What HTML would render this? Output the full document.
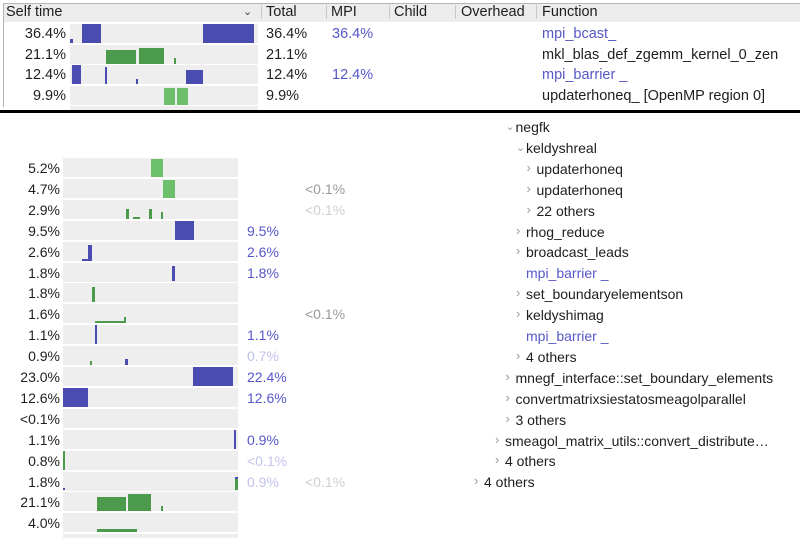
<!DOCTYPE html>
<html><head><meta charset="utf-8">
<style>
body{margin:0;width:800px;height:538px;overflow:hidden;background:#fff;font-family:"Liberation Sans",sans-serif;font-size:14px;color:#1e1e1e;position:relative}
.a{position:absolute;white-space:nowrap;line-height:16px}
.hdr{position:absolute;left:3px;top:3px;width:797px;height:18px;background:#ececec;border-top:1px solid #b5b5b5}
.sep{position:absolute;top:5px;width:1px;height:14px;background:#c8c8c8}
.band{position:absolute;background:#eeeeee;height:19px}
.mpi{color:#5657c8}.mpif{color:#c2c2ec}.gr{color:#9a9a9a}.grf{color:#cfcfcf}
.chev{position:absolute;color:#999;font-size:11px}
</style></head><body>
<div class="hdr"></div>
<div style="position:absolute;left:3px;top:3px;width:1px;height:104px;background:#b5b5b5"></div>
<div class="a" style="left:6px;top:4px;font-size:14.5px">Self time</div>
<div class="a" style="left:243px;top:4px;font-size:11px;color:#444">⌄</div>
<div class="sep" style="left:261px"></div><div class="sep" style="left:326px"></div><div class="sep" style="left:389px"></div><div class="sep" style="left:455px"></div><div class="sep" style="left:536px"></div>
<div class="a" style="left:266px;top:4px;font-size:14.5px">Total</div>
<div class="a" style="left:331px;top:4px;font-size:14.5px">MPI</div>
<div class="a" style="left:394px;top:4px;font-size:14.5px">Child</div>
<div class="a" style="left:461px;top:4px;font-size:14.5px">Overhead</div>
<div class="a" style="left:542px;top:4px;font-size:14.5px">Function</div>
<div style="position:absolute;left:0;top:110px;width:800px;height:3px;background:#000"></div>
<div id="root"></div>
<script>
// top table
const topSelf=["36.4%","21.1%","12.4%","9.9%"];
const topTotal=["36.4%","21.1%","12.4%","9.9%"];
const topMpi=["36.4%","","12.4%",""];
const topFunc=["mpi_bcast_","mkl_blas_def_zgemm_kernel_0_zen","mpi_barrier _","updaterhoneq_ [OpenMP region 0]"];
const topFuncMpi=[true,false,true,false];
// segments: [start, end, height] in fraction of band; color code b=blue g=green l=light green
const topSpark=[
 [[0,0.015,0.2,"b"],[0.065,0.165,1,"b"],[0.71,0.98,1,"b"]],
 [[0.19,0.35,0.7,"g"],[0.365,0.5,0.85,"g"],[0.555,0.565,0.3,"g"]],
 [[0.01,0.06,1,"b"],[0.185,0.195,0.9,"b"],[0.35,0.36,0.3,"b"],[0.615,0.71,0.75,"b"]],
 [[0.5,0.56,0.9,"l"],[0.57,0.63,0.9,"l"]]
];
// bottom table
const botSelf=["5.2%","4.7%","2.9%","9.5%","2.6%","1.8%","1.8%","1.6%","1.1%","0.9%","23.0%","12.6%","<0.1%","1.1%","0.8%","1.8%","21.1%","4.0%"];
const botMpi=["","","","9.5%","2.6%","1.8%","","","1.1%","0.7%","22.4%","12.6%","","0.9%","<0.1%","0.9%","",""];
const botMpiFaded=[0,0,0,0,0,0,0,0,0,1,0,0,0,0,1,1,0,0];
const botChild=["","<0.1%","<0.1%","","","","","<0.1%","","","","","","","","<0.1%","",""];
const botChildFaded=[0,0,1,0,0,0,0,0,0,0,0,0,0,0,0,1,0,0];
const botSpark=[
 [[0.5,0.57,0.95,"l"]],
 [[0.57,0.64,0.95,"l"]],
 [[0.36,0.375,0.5,"g"],[0.4,0.44,0.08,"g"],[0.49,0.51,0.5,"g"],[0.56,0.57,0.35,"g"]],
 [[0.64,0.75,1,"b"]],
 [[0.11,0.14,0.1,"b"],[0.14,0.165,0.8,"b"]],
 [[0.62,0.64,0.8,"b"]],
 [[0.165,0.18,0.8,"g"]],
 [[0.18,0.35,0.12,"g"],[0.35,0.36,0.35,"g"]],
 [[0.185,0.195,1,"b"]],
 [[0.155,0.165,0.2,"g"],[0.355,0.37,0.3,"b"]],
 [[0.74,0.97,1,"b"]],
 [[0,0.145,1,"b"]],
 [],
 [[0.975,0.99,1,"b"]],
 [[0,0.01,1,"g"]],
 [[0,0.01,0.15,"b"],[0.985,1,0.7,"b"],[0.985,1,0.6,"g"]],
 [[0.195,0.36,0.75,"g"],[0.37,0.5,0.9,"g"],[0.56,0.57,0.3,"g"]],
 [[0.195,0.42,0.2,"g"]]
];
const treeLabels=["negfk","keldyshreal","updaterhoneq","updaterhoneq","22 others","rhog_reduce","broadcast_leads","mpi_barrier _","set_boundaryelementson","keldyshimag","mpi_barrier _","4 others","mnegf_interface::set_boundary_elements","convertmatrixsiestatosmeagolparallel","3 others","smeagol_matrix_utils::convert_distribute…","4 others","4 others"];
const treeDepth=[3,4,5,5,5,4,4,4,4,4,4,4,3,3,3,2,2,0];
const treeChev=["v","v",">",">",">",">",">","",">",">","",">",">",">",">",">",">",">"];
const colors={b:"#4b4cb2",g:"#4c9a4c",l:"#6cc06c"};
const root=document.getElementById('root');
function div(cls,style,text){const d=document.createElement('div');d.className=cls;d.style.cssText=style;if(text!==undefined)d.textContent=text;root.appendChild(d);return d;}
function spark(segs,x0,w,y0,h,name){
 segs.forEach(s=>{const d=div('',`position:absolute;left:${x0+s[0]*w}px;width:${Math.max(1.5,(s[1]-s[0])*w)}px;top:${y0+h*(1-s[2])}px;height:${h*s[2]}px;background:${colors[s[3]]}`);
 
 });
}
topSelf.forEach((v,i)=>{
 const y=24+i*20.7;
 const b=div('band',`left:70px;width:188px;top:${y}px`);
 
 
 spark(topSpark[i],70,188,y,19,'top-sparkline-bar');
 const s=div('a',`right:734px;top:${y+2}px;font-size:14.5px`,v);
 
 
 const t=div('a',`left:266px;top:${y+2}px;font-size:14.5px`,topTotal[i]);
 
 
 const m=div('a mpi',`left:332px;top:${y+2}px;font-size:14.5px`,topMpi[i]);
 
 
 const f=div('a'+(topFuncMpi[i]?' mpi':''),`left:542px;top:${y+2}px;font-size:14.5px`,topFunc[i]);
 
 
});
const bb=div('band',`left:70px;width:188px;top:106px;height:4px`);


botSelf.forEach((v,i)=>{
 const y=158+i*20.9;
 const b=div('band',`left:63px;width:175px;top:${y}px`);
 
 
 spark(botSpark[i],63,175,y,19,'sparkline-bar');
 const s=div('a',`right:740px;top:${y+2}px`,v);
 
 
 const m=div('a '+(botMpiFaded[i]?'mpif':'mpi'),`left:247px;top:${y+2}px`,botMpi[i]);
 
 
 const c=div('a '+(botChildFaded[i]?'grf':'gr'),`left:305px;top:${y+2}px`,botChild[i]);
 
 
});
const lb=div('band',`left:63px;width:175px;top:534px;height:4px`);


treeLabels.forEach((t,i)=>{
 const y=119+i*20.9;
 const cx=474+treeDepth[i]*10.5;
 if(treeChev[i]){const ch=div('chev',`left:${cx}px;top:${treeChev[i]=='v'?y+1:y-1}px;${treeChev[i]=='v'?'':'font-size:13px'}`,treeChev[i]=='v'?'⌄':'›');
  
  }
 const isMpi=t.startsWith('mpi_');
 const l=div('a'+(isMpi?' mpi':''),`left:${cx+10}px;top:${y}px`,t);
 
 
});
</script>
</body></html>
